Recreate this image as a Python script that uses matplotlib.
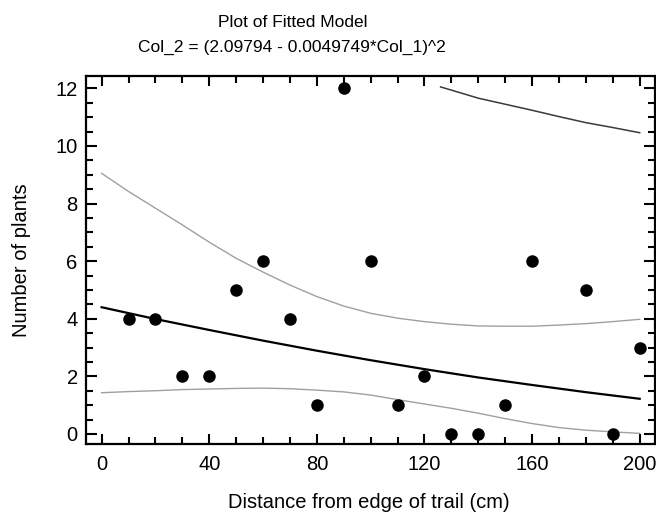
import matplotlib
matplotlib.use("Agg")
import matplotlib.pyplot as plt
from matplotlib.ticker import MultipleLocator

plt.rcParams['font.family'] = ['Liberation Sans', 'DejaVu Sans']

# observed points
distance = [10, 20, 30, 40, 50, 60, 70, 80, 90, 100, 110, 120, 130, 140, 150, 160, 180, 190, 200]
plants = [4, 4, 2, 2, 5, 6, 4, 1, 12, 6, 1, 2, 0, 0, 1, 6, 5, 0, 3]

# fitted model, read every 20 cm
fit_x = [0, 20, 40, 60, 80, 100, 120, 140, 160, 180, 200]
fit_y = [4.40, 3.99, 3.61, 3.24, 2.89, 2.56, 2.25, 1.96, 1.70, 1.45, 1.22]

# confidence limits, read every 10 cm
band_x = [0, 10, 20, 30, 40, 50, 60, 70, 80, 90, 100,
          110, 120, 130, 140, 150, 160, 170, 180, 190, 200]
upper_conf = [9.05, 8.42, 7.84, 7.26, 6.66, 6.10, 5.62, 5.17, 4.77, 4.44, 4.19,
              4.02, 3.90, 3.81, 3.75, 3.74, 3.74, 3.78, 3.83, 3.90, 3.98]
lower_conf = [1.43, 1.47, 1.50, 1.54, 1.56, 1.58, 1.59, 1.57, 1.52, 1.46, 1.35,
              1.19, 1.04, 0.89, 0.72, 0.53, 0.36, 0.22, 0.13, 0.07, 0.02]

# upper prediction limit (only the visible part)
pred_x = [126, 130, 140, 150, 160, 170, 180, 190, 200]
upper_pred = [12.05, 11.94, 11.66, 11.45, 11.24, 11.02, 10.81, 10.64, 10.46]

fig = plt.figure(figsize=(6.56, 5.16), dpi=100)
ax = fig.add_axes([86 / 656, 72 / 516, (654.5 - 86) / 656, (444 - 76) / 516])

ax.plot(band_x, upper_conf, color='#a0a0a0', lw=1.0)
ax.plot(band_x, lower_conf, color='#a0a0a0', lw=1.0)
ax.plot(pred_x, upper_pred, color='#3a3a3a', lw=1.1)
ax.plot(fit_x, fit_y, color='black', lw=1.6)
ax.plot(distance, plants, 'o', color='black', ms=8, clip_on=False)

ax.set_xlim(-5.8, 205.5)
ax.set_ylim(-0.35, 12.43)

ax.xaxis.set_major_locator(MultipleLocator(40))
ax.xaxis.set_minor_locator(MultipleLocator(10))
ax.yaxis.set_major_locator(MultipleLocator(2))
ax.yaxis.set_minor_locator(MultipleLocator(0.5))

ax.tick_params(axis='both', which='both', direction='in', top=True, right=True,
               width=1.5, labelsize=14.5)
ax.tick_params(axis='x', which='major', length=7, pad=8)
ax.tick_params(axis='x', which='minor', length=5)
ax.tick_params(axis='y', which='major', length=8, pad=6)
ax.tick_params(axis='y', which='minor', length=5)

for s in ax.spines.values():
    s.set_linewidth(1.6)

# titles sit left of the axes centre in the original
fig.text(293 / 656, 1 - 26.7 / 516, "Plot of Fitted Model", ha='center', va='baseline', fontsize=12.5)
fig.text(292 / 656, 1 - 51.5 / 516, "Col_2 = (2.09794 - 0.0049749*Col_1)^2",
         ha='center', va='baseline', fontsize=12.5)
fig.text(368.5 / 656, 8 / 516, "Distance from edge of trail (cm)", ha='center', va='baseline', fontsize=14.5)
fig.text(22 / 656, 0.496, "Number of plants", rotation=90, ha='center', va='center', fontsize=14.5)

fig.savefig("out.png", dpi=100)
